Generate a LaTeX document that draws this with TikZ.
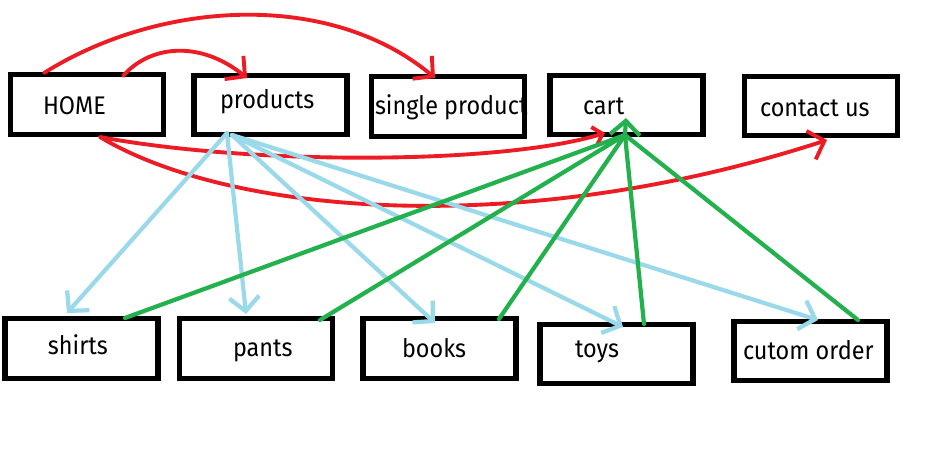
\documentclass[tikz,border=0pt]{standalone}
\usepackage{fontspec}
\setmainfont[FakeStretch=0.92]{Fira Sans}
\usetikzlibrary{arrows.meta}
\definecolor{pred}{HTML}{ED1C24}
\definecolor{pblue}{HTML}{99D9EA}
\definecolor{pgreen}{HTML}{22B14C}
\begin{document}
\begin{tikzpicture}[x=0.02cm,y=-0.02cm,
  box/.style={draw=black,line width=2.9pt,inner sep=0pt,outer sep=0pt,minimum width=3.06cm,minimum height=1.19cm},
  lbl/.style={anchor=base west,inner sep=0pt,outer sep=0pt,font=\fontsize{14.5pt}{16pt}\selectfont},
  barbend/.style={-{Straight Barb[length=8pt,width=17pt]}},
  smallbarb/.style={-{Straight Barb[length=5pt,width=11pt]}},
  redl/.style={draw=pred,line width=2.2pt,line cap=round},
  bluel/.style={draw=pblue,line width=2.4pt,line cap=round},
  greenl/.style={draw=pgreen,line width=2.4pt,line cap=round}]
\fill[white] (0,0) rectangle (937,473);
\useasboundingbox (0,0) rectangle (937,473);

% boxes
\node[box] (home)    at (87,104.5) {};
\node[box] (products) at (270.5,105) {};
\node[box] (single)  at (448,106.5) {};
\node[box] (cart)    at (626.5,105) {};
\node[box] (contact) at (821,106) {};
\node[box] (shirts)  at (81.5,348.5) {};
\node[box] (pants)   at (256,348.5) {};
\node[box] (books)   at (439.5,348.5) {};
\node[box] (toys)    at (616.5,354) {};
\node[box] (custom)  at (810.5,351) {};

% labels
\node[lbl] (homeT)    at (43,115) {HOME};
\node[lbl] (productsT) at (220,109) {products};
\node[lbl] (singleT)  at (375,115) {single product};
\node[lbl] (cartT)    at (583,114) {cart};
\node[lbl] (contactT) at (760,117) {contact us};
\node[lbl] (shirtsT)  at (48,354) {shirts};
\node[lbl] (pantsT)   at (233,356) {pants};
\node[lbl] (booksT)   at (402,357) {books};
\node[lbl] (toysT)    at (575,357) {toys};
\node[lbl] (customT)  at (743,359) {cutom order};

% connector points
\coordinate (hTopA) at (44,73);
\coordinate (hTopB) at (123,76);
\coordinate (hBot) at (100,137);
\coordinate (pIn) at (247,78);
\coordinate (sIn) at (435,78);
\coordinate (cIn) at (605,133);
\coordinate (kIn) at (827,140);
\coordinate (pHub) at (227,133);
\coordinate (pHubB) at (232,135);
\coordinate (shIn) at (67,313);
\coordinate (paIn) at (246,314);
\coordinate (boIn) at (435,323);
\coordinate (toIn) at (623,327);
\coordinate (cuIn) at (818,320);
\coordinate (cHub) at (625,135);
\coordinate (cApex) at (626,118);
\coordinate (shOut) at (125,318);
\coordinate (paOut) at (320,320);
\coordinate (boOut) at (499,319);
\coordinate (toOut) at (644,324);
\coordinate (cuOut) at (858,320);

% red
\draw[redl,barbend] (hTopA) .. controls (160,0) and (330,-10) .. (sIn);
\draw[redl,barbend] (hTopB) .. controls (150,45) and (200,40) .. (pIn);
\draw[redl,smallbarb] (hBot) .. controls (250,165) and (500,165) .. (cIn);
\draw[redl,barbend] (hBot) .. controls (230,215) and (520,240) .. (kIn);

% blue
\draw[bluel,barbend] (pHub) -- (shIn);
\draw[bluel,barbend] (pHub) -- (paIn);
\draw[bluel,barbend] (pHubB) -- (boIn);
\draw[bluel,barbend] (pHubB) -- (toIn);
\draw[bluel,barbend] (pHubB) -- (cuIn);

% green
\draw[greenl] (shOut) -- (cHub);
\draw[greenl] (paOut) -- (cHub);
\draw[greenl] (boOut) -- (cHub);
\draw[greenl] (toOut) -- (cHub);
\draw[greenl] (cuOut) -- (cHub);
\draw[greenl,barbend] (cHub) -- (cApex);
\end{tikzpicture}
\end{document}
